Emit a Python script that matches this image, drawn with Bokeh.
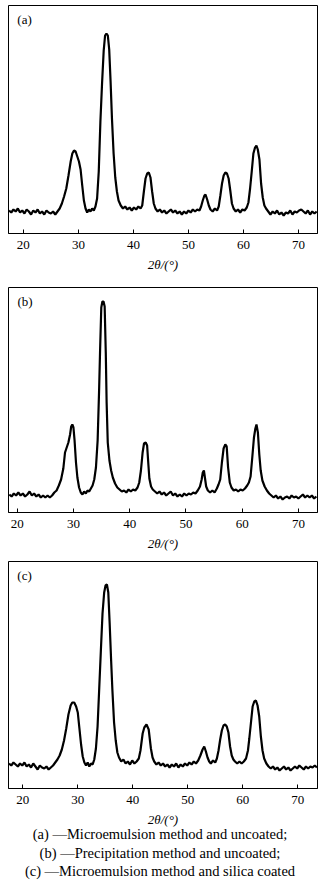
from bokeh.plotting import figure
from bokeh.models import FixedTicker, Label, Div
from bokeh.layouts import column
from bokeh.embed import file_html
from bokeh.resources import INLINE

# ---------------- data ----------------
x_ticks = [20, 30, 40, 50, 60, 70]
panel_tags = ["(a)", "(b)", "(c)"]
x_title = "2θ/(°)"
caption_lines = [
    "(a) —Microemulsion method and uncoated;",
    "(b) —Precipitation method and uncoated;",
    "(c) —Microemulsion method and silica coated",
]

two_theta_a = [17.4, 17.8, 18.2, 18.6, 19.0, 19.4, 19.8, 20.2, 20.6, 21.0, 21.4, 21.8, 22.2, 22.6, 23.0, 23.4, 23.8,
               24.2, 24.6, 25.0, 25.4, 25.8, 26.2, 26.6, 27.0, 27.4, 27.8, 28.2, 28.6, 28.9, 29.2, 29.5, 29.8, 30.1,
               30.4, 30.7, 31.0, 31.3, 31.6, 31.9, 32.2, 32.5, 32.8, 33.1, 33.4, 33.7, 34.0, 34.3, 34.6, 34.85, 35.1,
               35.35, 35.6, 35.85, 36.1, 36.4, 36.7, 37.0, 37.3, 37.7, 38.1, 38.5, 38.9, 39.3, 39.7, 40.1, 40.5, 40.9,
               41.3, 41.6, 41.9, 42.2, 42.5, 42.8, 43.1, 43.4, 43.7, 44.0, 44.4, 44.8, 45.2, 45.6, 46.0, 46.4, 46.8,
               47.2, 47.6, 48.0, 48.4, 48.8, 49.2, 49.6, 50.0, 50.4, 50.8, 51.2, 51.6, 52.0, 52.3, 52.6, 52.9, 53.1,
               53.4, 53.7, 54.0, 54.4, 54.8, 55.2, 55.5, 55.8, 56.1, 56.4, 56.7, 57.0, 57.3, 57.6, 57.9, 58.2, 58.6,
               59.0, 59.4, 59.8, 60.2, 60.6, 60.9, 61.2, 61.5, 61.8, 62.1, 62.35, 62.6, 62.9, 63.2, 63.5, 63.8, 64.1,
               64.5, 64.9, 65.3, 65.7, 66.1, 66.5, 66.9, 67.3, 67.7, 68.1, 68.5, 68.9, 69.3, 69.7, 70.1, 70.5, 70.9,
               71.3, 71.7, 72.1, 72.5, 72.9, 73.3]
intensity_a = [23, 21, 24, 22, 25, 21, 23, 20, 24, 22, 19, 23, 21, 24, 20, 22, 19,
               23, 21, 20, 22, 19, 22, 25, 30, 37, 45, 58, 72, 80, 83, 82, 77, 72,
               64, 48, 33, 25, 21, 24, 22, 25, 23, 27, 35, 62, 112, 150, 183, 198, 200,
               198, 184, 152, 115, 80, 56, 42, 33, 28, 25, 27, 24, 26, 23, 26, 24, 27,
               25, 28, 42, 55, 60, 61, 56, 42, 30, 25, 22, 24, 21, 23, 20, 22, 24,
               21, 23, 20, 22, 19, 22, 20, 23, 21, 24, 22, 24, 23, 27, 33, 38, 39,
               34, 28, 24, 22, 25, 23, 27, 38, 50, 58, 61, 60, 55, 43, 30, 25, 22,
               24, 21, 24, 23, 26, 31, 45, 62, 80, 86, 88, 84, 74, 50, 36, 28, 25,
               22, 19, 22, 20, 23, 19, 21, 18, 21, 20, 23, 19, 22, 21, 23, 24, 22,
               20, 23, 19, 22, 20, 22]

two_theta_b = [18.6, 19.0, 19.4, 19.8, 20.2, 20.6, 21.0, 21.4, 21.8, 22.2, 22.6, 23.0, 23.4, 23.8, 24.2, 24.6, 25.0,
               25.4, 25.8, 26.2, 26.6, 27.0, 27.4, 27.8, 28.2, 28.5, 28.8, 29.1, 29.4, 29.6, 29.8, 30.0, 30.2, 30.45,
               30.7, 31.0, 31.3, 31.6, 31.9, 32.2, 32.5, 32.8, 33.1, 33.4, 33.7, 34.0, 34.3, 34.55, 34.75, 34.95,
               35.15, 35.35, 35.55, 35.75, 35.9, 36.1, 36.4, 36.7, 37.0, 37.4, 37.8, 38.2, 38.6, 39.0, 39.4, 39.8,
               40.2, 40.6, 41.0, 41.4, 41.7, 42.0, 42.3, 42.55, 42.85, 43.1, 43.3, 43.5, 43.8, 44.1, 44.5, 44.9,
               45.3, 45.7, 46.1, 46.5, 46.9, 47.3, 47.7, 48.1, 48.5, 48.9, 49.3, 49.7, 50.1, 50.5, 50.9, 51.3, 51.7,
               52.1, 52.5, 52.8, 53.0, 53.2, 53.4, 53.6, 53.9, 54.3, 54.7, 55.1, 55.5, 55.8, 56.1, 56.4, 56.7, 57.0,
               57.25, 57.5, 57.8, 58.1, 58.5, 58.9, 59.3, 59.7, 60.1, 60.5, 60.9, 61.2, 61.5, 61.8, 62.1, 62.35,
               62.55, 62.8, 63.05, 63.3, 63.6, 64.0, 64.4, 64.8, 65.2, 65.6, 66.0, 66.4, 66.8, 67.2, 67.6, 68.0,
               68.4, 68.8, 69.2, 69.6, 70.0, 70.4, 70.8, 71.2, 71.6, 72.0, 72.4, 72.8, 73.2]
intensity_b = [18, 16, 19, 17, 20, 17, 19, 16, 18, 21, 17, 19, 16, 18, 15, 17, 15,
               17, 15, 17, 20, 22, 27, 33, 44, 60, 65, 70, 78, 86, 88, 85, 72, 50,
               35, 25, 20, 18, 21, 19, 22, 21, 24, 27, 33, 45, 72, 120, 165, 205,
               211, 211, 206, 160, 110, 70, 52, 42, 35, 29, 25, 23, 21, 22, 20, 23,
               21, 23, 22, 25, 30, 42, 60, 69, 70, 67, 50, 34, 26, 23, 21, 19,
               21, 18, 20, 17, 19, 21, 17, 19, 16, 18, 16, 19, 17, 19, 18, 20, 19,
               22, 26, 33, 40, 42, 34, 26, 22, 20, 22, 20, 24, 28, 33, 50, 64, 68,
               66, 45, 30, 25, 22, 23, 21, 23, 22, 24, 27, 30, 36, 55, 75, 84,
               88, 80, 58, 42, 32, 26, 22, 19, 17, 15, 17, 14, 16, 13, 15, 16,
               14, 17, 15, 16, 14, 16, 18, 15, 17, 15, 17, 14, 16]

two_theta_c = [17.5, 17.9, 18.3, 18.7, 19.1, 19.5, 19.9, 20.3, 20.7, 21.1, 21.5, 21.9, 22.3, 22.7, 23.1, 23.5, 23.9,
               24.3, 24.7, 25.1, 25.5, 25.9, 26.3, 26.7, 27.1, 27.5, 27.9, 28.3, 28.7, 29.0, 29.35, 29.7, 30.0, 30.3,
               30.6, 30.9, 31.2, 31.5, 31.8, 32.1, 32.4, 32.7, 33.0, 33.3, 33.6, 33.9, 34.2, 34.5, 34.8, 35.05, 35.3,
               35.55, 35.8, 36.05, 36.3, 36.6, 36.9, 37.2, 37.5, 37.9, 38.3, 38.7, 39.1, 39.5, 39.9, 40.3, 40.7,
               41.1, 41.4, 41.8, 42.1, 42.5, 42.9, 43.3, 43.6, 43.9, 44.3, 44.7, 45.1, 45.5, 45.9, 46.3, 46.7, 47.1,
               47.5, 47.9, 48.3, 48.7, 49.1, 49.5, 49.9, 50.3, 50.7, 51.1, 51.5, 51.9, 52.3, 52.7, 53.0, 53.3, 53.6,
               53.9, 54.2, 54.6, 55.0, 55.3, 55.6, 55.9, 56.2, 56.5, 56.8, 57.1, 57.4, 57.7, 58.0, 58.3, 58.6, 59.0,
               59.4, 59.8, 60.2, 60.6, 60.95, 61.2, 61.5, 61.8, 62.1, 62.4, 62.7, 63.0, 63.3, 63.6, 63.9, 64.3,
               64.7, 65.1, 65.5, 65.9, 66.3, 66.7, 67.1, 67.5, 67.9, 68.3, 68.7, 69.1, 69.5, 69.9, 70.3, 70.7,
               71.1, 71.5, 71.9, 72.3, 72.7, 73.1, 73.5]
intensity_c = [25, 23, 26, 24, 22, 25, 23, 26, 22, 24, 21, 25, 22, 19, 23, 21, 20,
               22, 19, 21, 23, 26, 29, 33, 39, 48, 60, 74, 83, 86, 86, 82, 76, 60,
               44, 32, 26, 23, 26, 22, 25, 24, 29, 40, 62, 100, 138, 175, 196, 203, 204,
               196, 165, 130, 98, 66, 48, 36, 31, 27, 29, 25, 27, 24, 28, 25, 27,
               30, 38, 55, 61, 64, 59, 40, 31, 27, 24, 26, 23, 25, 22, 24, 21, 24,
               22, 25, 21, 24, 22, 25, 23, 26, 24, 27, 25, 28, 33, 39, 42, 37, 31,
               27, 25, 28, 26, 30, 38, 49, 58, 63, 64, 62, 56, 42, 33, 29, 27, 25,
               27, 25, 27, 30, 38, 50, 66, 82, 87, 88, 83, 72, 52, 38, 30, 25,
               22, 20, 22, 19, 21, 18, 20, 22, 19, 21, 18, 20, 22, 20, 23, 21,
               19, 22, 20, 22, 21, 23, 21]

x_ranges = [(17.3, 73.45), (18.45, 73.4), (17.4, 73.6)]
y_tops = [228, 225, 227]

SERIF = "Liberation Serif"


def make_panel(xs, ys, xr, ytop, tag, height, border_bottom):
    p = figure(width=320, height=height, x_range=xr, y_range=(0, ytop),
               output_backend="svg", toolbar_location=None,
               min_border_left=8, min_border_right=3, min_border_top=5,
               min_border_bottom=border_bottom)
    p.line(xs, ys, line_color="black", line_width=2.2)
    p.xgrid.visible = False
    p.ygrid.visible = False
    p.yaxis.visible = False
    p.outline_line_color = "black"
    p.outline_line_width = 1
    p.outline_line_alpha = 1
    ax = p.xaxis[0]
    ax.ticker = FixedTicker(ticks=x_ticks)
    ax.major_tick_in = 4
    ax.major_tick_out = 0
    ax.minor_tick_line_color = None
    ax.axis_line_color = "black"
    ax.major_tick_line_color = "black"
    ax.major_label_text_font = SERIF
    ax.major_label_text_font_size = "13px"
    ax.major_label_text_color = "black"
    ax.major_label_standoff = 7
    ax.axis_label = x_title
    ax.axis_label_text_font = SERIF
    ax.axis_label_text_font_size = "13px"
    ax.axis_label_text_font_style = "italic"
    ax.axis_label_text_color = "black"
    ax.axis_label_standoff = 5
    p.background_fill_color = "white"
    p.border_fill_color = "white"
    lab = Label(x=xr[0] + 1.6, y=ytop * 0.94, text=tag, text_font=SERIF,
                text_font_size="13px", text_color="black", text_baseline="middle")
    p.add_layout(lab)
    return p


pa = make_panel(two_theta_a, intensity_a, x_ranges[0], y_tops[0], panel_tags[0], 282, 49)
pb = make_panel(two_theta_b, intensity_b, x_ranges[1], y_tops[1], panel_tags[1], 274, 44)
pc = make_panel(two_theta_c, intensity_c, x_ranges[2], y_tops[2], panel_tags[2], 273, 41)

cap = Div(text="<br>".join(caption_lines), width=320, margin=(-4, 0, 0, 0),
          styles={"font-family": "'Liberation Serif', serif", "font-size": "14.5px",
                  "line-height": "18.5px", "text-align": "center", "color": "black",
                  "width": "320px"})

layout = column(pa, pb, pc, cap, spacing=0)

open("out.html", "w").write(file_html(layout, INLINE))
